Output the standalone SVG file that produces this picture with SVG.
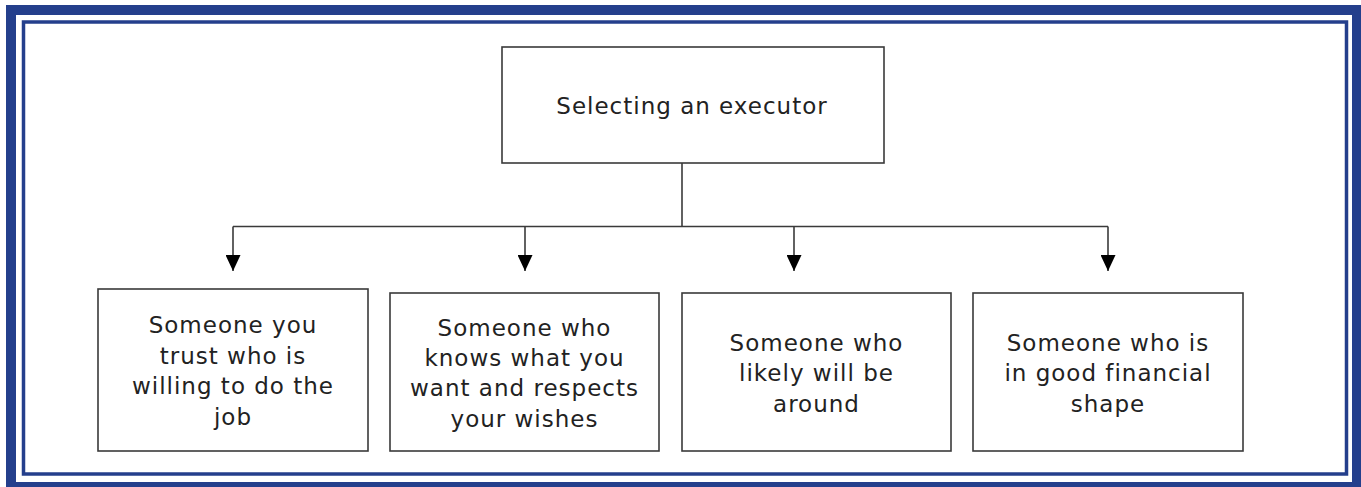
<svg xmlns="http://www.w3.org/2000/svg" width="1361" height="487" viewBox="0 0 1361 487">
<style>
.frame{fill:none;stroke:#243f8c}
.box{fill:#fff;stroke:#3a3a3a;stroke-width:1.6}
.t{font-family:"DejaVu Sans",Verdana,sans-serif;font-size:23px;letter-spacing:1px;fill:#222;text-anchor:middle}
.c{fill:none;stroke:#3a3a3a;stroke-width:1.6}
</style>
<defs>
<marker id="ah" markerWidth="16" markerHeight="15" refX="16" refY="7.5" orient="auto" markerUnits="userSpaceOnUse" viewBox="0 0 16 15">
<path d="M0,0 L16,7.5 L0,15 Z" fill="#000"/>
</marker>
</defs>
<rect width="1361" height="487" fill="#fff"/>
<rect class="frame" x="11" y="10" width="1346" height="477" stroke-width="10"/>
<rect class="frame" x="23.5" y="22" width="1323" height="452" stroke-width="3.5"/>
<g id="connectors">
<line class="c" x1="682" y1="159" x2="682" y2="226.5"/>
<line class="c" x1="233" y1="226.5" x2="1108" y2="226.5"/>
<line class="c" x1="233" y1="226.5" x2="233" y2="271" marker-end="url(#ah)"/>
<line class="c" x1="525" y1="226.5" x2="525" y2="271" marker-end="url(#ah)"/>
<line class="c" x1="794" y1="226.5" x2="794" y2="271" marker-end="url(#ah)"/>
<line class="c" x1="1108" y1="226.5" x2="1108" y2="271" marker-end="url(#ah)"/>
</g>
<g id="root">
<rect class="box" x="502" y="47" width="382" height="116"/>
<text class="t" x="692" y="114">Selecting an executor</text>
</g>
<g id="n1">
<rect class="box" x="98" y="289" width="270" height="162"/>
<text class="t" x="233" y="333">Someone you</text>
<text class="t" x="233" y="364">trust who is</text>
<text class="t" x="233" y="394">willing to do the</text>
<text class="t" x="233" y="425">job</text>
</g>
<g id="n2">
<rect class="box" x="390" y="293" width="269" height="158"/>
<text class="t" x="524.5" y="336">Someone who</text>
<text class="t" x="524.5" y="366">knows what you</text>
<text class="t" x="524.5" y="396">want and respects</text>
<text class="t" x="524.5" y="427">your wishes</text>
</g>
<g id="n3">
<rect class="box" x="682" y="293" width="269" height="158"/>
<text class="t" x="816.5" y="351">Someone who</text>
<text class="t" x="816.5" y="381">likely will be</text>
<text class="t" x="816.5" y="412">around</text>
</g>
<g id="n4">
<rect class="box" x="973" y="293" width="270" height="158"/>
<text class="t" x="1108" y="351">Someone who is</text>
<text class="t" x="1108" y="381">in good financial</text>
<text class="t" x="1108" y="412">shape</text>
</g>
</svg>
